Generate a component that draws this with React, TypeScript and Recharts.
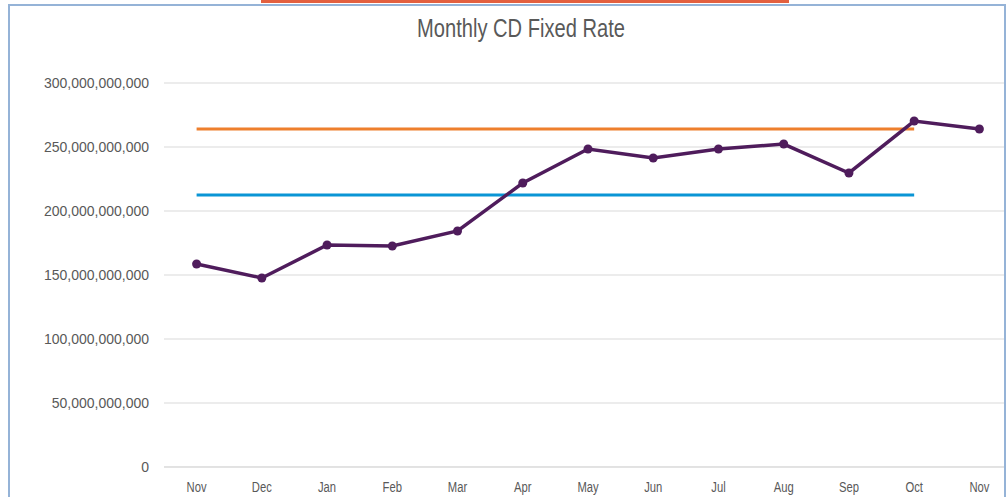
import React from "react"
import { LineChart, Line, XAxis, YAxis, CartesianGrid } from "recharts"

const months = ["Nov", "Dec", "Jan", "Feb", "Mar", "Apr", "May", "Jun", "Jul", "Aug", "Sep", "Oct", "Nov"]
const fixedRate = [158.6e9, 147.7e9, 173.4e9, 172.7e9, 184.4e9, 221.9e9, 248.4e9, 241.4e9, 248.4e9, 252.3e9, 229.7e9, 270.3e9, 264.1e9]
const upperLevel = [264e9, 264e9, 264e9, 264e9, 264e9, 264e9, 264e9, 264e9, 264e9, 264e9, 264e9, 264e9, null]
const lowerLevel = [212.5e9, 212.5e9, 212.5e9, 212.5e9, 212.5e9, 212.5e9, 212.5e9, 212.5e9, 212.5e9, 212.5e9, 212.5e9, 212.5e9, null]
const yTicks = [0, 50e9, 100e9, 150e9, 200e9, 250e9, 300e9]

const data = months.map((m, i) => ({
  month: m,
  rate: fixedRate[i],
  upper: upperLevel[i],
  lower: lowerLevel[i],
}))

const MonthTick = (props: any) => {
  const { x, y, payload } = props
  return (
    <text
      transform={`translate(${x},${y}) scale(0.75,1)`}
      textAnchor="middle"
      dy="0.71em"
      fill="#595959"
      fontSize={15}
      fontFamily="Liberation Sans, Arial, sans-serif"
    >
      {payload.value}
    </text>
  )
}

export default function App() {
  return (
    <div style={{ position: "absolute", left: 0, top: 0, width: 1008, height: 497, overflow: "hidden", background: "#fff" }}>
      <div style={{ position: "absolute", left: 261, top: 0, width: 528, height: 3, background: "#E3603F" }} />
      <div
        style={{
          position: "absolute",
          left: 8,
          top: 4,
          width: 994,
          height: 520,
          border: "2px solid #95B3D7",
          overflow: "hidden",
          background: "#fff",
        }}
      >
        <svg width={994} height={60} style={{ position: "absolute", left: 0, top: 0 }}>
          <text
            x={511}
            y={31}
            textAnchor="middle"
            fontSize={26}
            fill="#595959"
            fontFamily="Liberation Sans, Arial, sans-serif"
            textLength={208}
            lengthAdjust="spacingAndGlyphs"
          >
            Monthly CD Fixed Rate
          </text>
        </svg>
        <div style={{ position: "absolute", left: 0, top: 0 }}>
          <LineChart width={1002} height={491} data={data} margin={{ top: 77, right: 0, left: 0, bottom: 0 }}>
            <CartesianGrid vertical={false} stroke="#D9D9D9" />
            <XAxis
              dataKey="month"
              axisLine={{ stroke: "#D9D9D9" }}
              tickLine={false}
              tickSize={0}
              tickMargin={14}
              height={30}
              padding={{ left: 32.6, right: 32.6 }}
              tick={<MonthTick />}
              interval={0}
            />
            <YAxis
              domain={[0, 300e9]}
              ticks={yTicks}
              width={154}
              axisLine={false}
              tickLine={false}
              tickSize={0}
              tickMargin={15}
              tick={{ fill: "#595959", fontSize: 14, fontFamily: "Liberation Sans, Arial, sans-serif" }}
              tickFormatter={(v: number) => v.toLocaleString("en-US")}
            />
            <Line dataKey="upper" stroke="#EE7F2D" strokeWidth={3} dot={false} isAnimationActive={false} />
            <Line dataKey="lower" stroke="#0A95D5" strokeWidth={3} dot={false} isAnimationActive={false} />
            <Line
              type="linear"
              dataKey="rate"
              stroke="#4F1C5C"
              strokeWidth={3.5}
              dot={{ r: 4.5, fill: "#4F1C5C", stroke: "#4F1C5C", strokeWidth: 0 }}
              isAnimationActive={false}
            />
          </LineChart>
        </div>
      </div>
    </div>
  )
}
